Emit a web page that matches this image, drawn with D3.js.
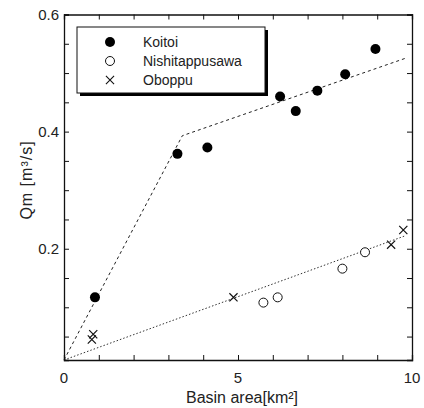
<!DOCTYPE html>
<html>
<head>
<meta charset="utf-8">
<script src="https://cdn.jsdelivr.net/npm/d3@7"></script>
<style>
  body { margin: 0; background: #fff; }
  text { font-family: "Liberation Sans", Arial, sans-serif; fill: #222; }
</style>
</head>
<body>
<svg id="chart" width="424" height="408"></svg>
<script>
// basin area [km2] and peak discharge Qm [m3/s]
var koitoiX = [0.89, 3.26, 4.12, 6.21, 6.66, 7.28, 8.08, 8.95];
var koitoiY = [0.117, 0.362, 0.373, 0.460, 0.435, 0.470, 0.498, 0.541];
var nishiX = [5.73, 6.14, 8.00, 8.65];
var nishiY = [0.108, 0.117, 0.166, 0.194];
var oboppuX = [0.80, 0.84, 4.87, 9.40, 9.75];
var oboppuY = [0.045, 0.054, 0.117, 0.207, 0.232];

// fitted lines
var koitoiFitX = [0, 3.4, 9.8];
var koitoiFitY = [0.01, 0.393, 0.525];
var lowFitX = [0, 9.8];
var lowFitY = [0.01, 0.222];

var xTickLabels = [0, 5, 10];
var yTickLabels = [0.2, 0.4, 0.6];
var legendNames = ["Koitoi", "Nishitappusawa", "Oboppu"];

(function() {
"use strict";

var svg = d3.select("#chart");

var x = d3.scaleLinear().domain([0, 10]).range([64, 412]);
var y = d3.scaleLinear().domain([0.01, 0.6]).range([360, 14.5]);

var g = svg.append("g");

// fit lines
var line = d3.line()
  .x(function(d) { return x(d[0]); })
  .y(function(d) { return y(d[1]); });

g.append("path")
  .datum(d3.zip(koitoiFitX, koitoiFitY))
  .attr("d", line)
  .attr("fill", "none")
  .attr("stroke", "#222")
  .attr("stroke-width", 1)
  .attr("stroke-dasharray", "3,3");

g.append("path")
  .datum(d3.zip(lowFitX, lowFitY))
  .attr("d", line)
  .attr("fill", "none")
  .attr("stroke", "#333")
  .attr("stroke-width", 1)
  .attr("stroke-dasharray", "1.5,2");

// axes frame with inward ticks on all four sides
var xTicks = d3.range(0, 11);
var yTicks = d3.range(0.05, 0.601, 0.05);

g.append("g")
  .attr("transform", "translate(0," + y(0.01) + ")")
  .call(d3.axisBottom(x).tickValues(xTicks).tickSize(-5).tickFormat(""));
g.append("g")
  .attr("transform", "translate(0," + y(0.6) + ")")
  .call(d3.axisTop(x).tickValues(xTicks).tickSize(-5).tickFormat(""));
g.append("g")
  .attr("transform", "translate(" + x(0) + ",0)")
  .call(d3.axisLeft(y).tickValues(yTicks).tickSize(-5).tickFormat(""));
g.append("g")
  .attr("transform", "translate(" + x(10) + ",0)")
  .call(d3.axisRight(y).tickValues(yTicks).tickSize(-5).tickFormat(""));

g.selectAll(".domain").attr("stroke", "#111").attr("stroke-width", 1.3);
g.selectAll(".tick line").attr("stroke", "#111");

// tick labels
g.selectAll(".xlab")
  .data(xTickLabels)
  .enter().append("text")
  .attr("x", function(d) { return x(d); })
  .attr("y", 383)
  .attr("text-anchor", "middle")
  .style("font-size", "15px")
  .text(function(d) { return d; });

g.selectAll(".ylab")
  .data(yTickLabels)
  .enter().append("text")
  .attr("x", 59)
  .attr("y", function(d) { return y(d) + 5; })
  .attr("text-anchor", "end")
  .style("font-size", "15px")
  .text(function(d) { return d.toFixed(1); });

// axis titles
svg.append("text")
  .attr("x", 242)
  .attr("y", 403)
  .attr("text-anchor", "middle")
  .style("font-size", "16px")
  .text("Basin area[km²]");

svg.append("text")
  .attr("transform", "translate(32,180) rotate(-90)")
  .attr("text-anchor", "middle")
  .style("font-size", "16px")
  .style("letter-spacing", "1px")
  .text("Qm [m³/s]");

// points
g.selectAll(".koitoi")
  .data(d3.zip(koitoiX, koitoiY))
  .enter().append("circle")
  .attr("cx", function(d) { return x(d[0]); })
  .attr("cy", function(d) { return y(d[1]); })
  .attr("r", 5)
  .attr("fill", "#000");

g.selectAll(".nishi")
  .data(d3.zip(nishiX, nishiY))
  .enter().append("circle")
  .attr("cx", function(d) { return x(d[0]); })
  .attr("cy", function(d) { return y(d[1]); })
  .attr("r", 4.5)
  .attr("fill", "#fff")
  .attr("stroke", "#111")
  .attr("stroke-width", 1);

var cross = d3.symbol().type(d3.symbolX).size(45);

g.selectAll(".oboppu")
  .data(d3.zip(oboppuX, oboppuY))
  .enter().append("path")
  .attr("transform", function(d) { return "translate(" + x(d[0]) + "," + y(d[1]) + ")"; })
  .attr("d", cross)
  .attr("fill", "none")
  .attr("stroke", "#111")
  .attr("stroke-width", 1.2);

// legend with drop shadow
var lg = svg.append("g");
lg.append("rect")
  .attr("x", 80).attr("y", 30)
  .attr("width", 188).attr("height", 66)
  .attr("fill", "#000");
lg.append("rect")
  .attr("x", 77).attr("y", 27)
  .attr("width", 188).attr("height", 66)
  .attr("fill", "#fff")
  .attr("stroke", "#111")
  .attr("stroke-width", 1);

var rows = [42, 61, 80];
legendNames.forEach(function(name, i) {
  var cy = rows[i];
  if (i === 0) {
    lg.append("circle").attr("cx", 110).attr("cy", cy).attr("r", 5).attr("fill", "#000");
  } else if (i === 1) {
    lg.append("circle").attr("cx", 110).attr("cy", cy).attr("r", 4.5)
      .attr("fill", "#fff").attr("stroke", "#111");
  } else {
    lg.append("path").attr("transform", "translate(110," + cy + ")")
      .attr("d", cross).attr("fill", "none").attr("stroke", "#111").attr("stroke-width", 1.1);
  }
  lg.append("text")
    .attr("x", 143)
    .attr("y", cy + 5)
    .style("font-size", "14px")
    .text(name);
});

})();
</script>
</body>
</html>
